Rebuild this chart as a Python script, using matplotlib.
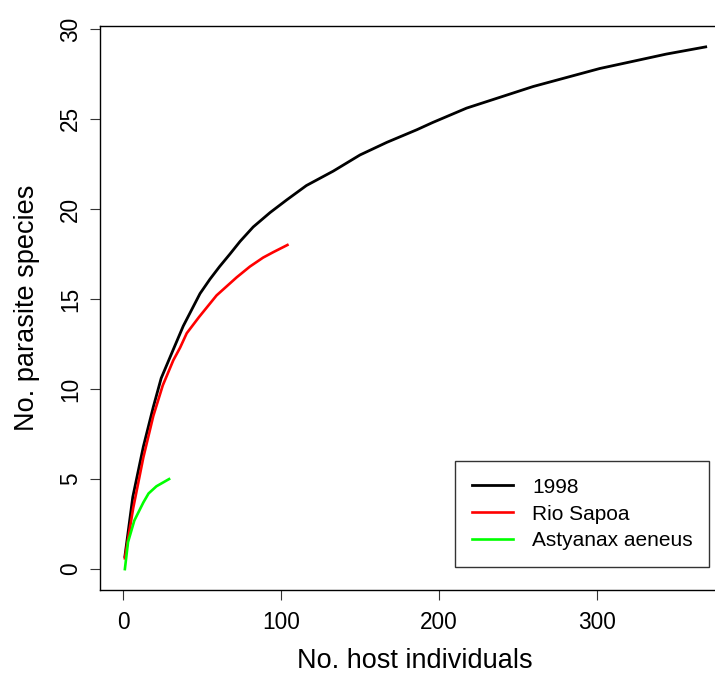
import matplotlib
matplotlib.use("Agg")
import matplotlib.pyplot as plt

# %% Data

hosts_1998 = [1, 6, 12.7, 19, 24, 31.7, 38, 43.3, 48.6, 54.9, 61, 67.6, 74, 82.3,
              93, 103.5, 116, 133, 150, 167, 186, 196, 217.5, 238.6, 259.7,
              280.8, 301.9, 323, 344, 369]
species_1998 = [0.7, 4.0, 6.8, 9.0, 10.6, 12.2, 13.5, 14.4, 15.3, 16.1, 16.8, 17.5,
                18.2, 19.0, 19.8, 20.5, 21.3, 22.1, 23.0, 23.7, 24.4, 24.8, 25.6,
                26.2, 26.8, 27.3, 27.8, 28.2, 28.6, 29.0]

hosts_sapoa = [1, 6.3, 12.7, 19, 25, 31.7, 36, 40.2, 48, 59.1, 71.8, 80.2, 88.6, 95, 104]
species_sapoa = [0.6, 3.4, 6.2, 8.5, 10.2, 11.6, 12.3, 13.1, 14.0, 15.2, 16.2,
                 16.8, 17.3, 17.6, 18.0]

hosts_astyanax = [1, 3, 7, 12.7, 16, 21, 25, 29]
species_astyanax = [0.0, 1.5, 2.7, 3.7, 4.2, 4.6, 4.8, 5.0]

x_ticks = [0, 100, 200, 300]
y_ticks = [0, 5, 10, 15, 20, 25, 30]

# %% Plot

plt.rcParams["font.family"] = ["Liberation Sans", "DejaVu Sans"]

fig = plt.figure(figsize=(7.15, 6.75), dpi=100)
# right edge of the plot box runs past the image edge, as in the original
ax = fig.add_axes([100 / 715, 85 / 675, 629 / 715, 564 / 675])

ax.plot(hosts_1998, species_1998, color="black", lw=2.0, label="1998")
ax.plot(hosts_sapoa, species_sapoa, color="#ff0000", lw=1.9, label="Rio Sapoa")
ax.plot(hosts_astyanax, species_astyanax, color="#00ff00", lw=1.9,
        label="Astyanax aeneus")

ax.set_xlim(-14.76, 383.76)
ax.set_ylim(-1.16, 30.16)
ax.set_xticks(x_ticks)
ax.set_yticks(y_ticks)
ax.set_yticklabels([str(v) for v in y_ticks], rotation=90, va="center")

ax.tick_params(axis="both", direction="out", length=7.5, width=0.8,
               labelsize=16.3, color="#333333")
ax.tick_params(axis="x", pad=7.5)
ax.tick_params(axis="y", pad=5.5)
for side in ["left", "bottom", "top", "right"]:
    ax.spines[side].set_linewidth(1.0)

ax.set_xlabel("No. host individuals", fontsize=19.5, va="center")
ax.set_ylabel("No. parasite species", fontsize=19.5, va="center")
ax.xaxis.set_label_coords(0.5, (590 - 661) / 564)
ax.yaxis.set_label_coords((27 - 100) / 629, 0.5)

leg = ax.legend(loc="upper left", bbox_to_anchor=(455 / 715, 1 - 461 / 675),
                bbox_transform=fig.transFigure, fontsize=15, frameon=True,
                fancybox=False, borderaxespad=0, borderpad=0.8,
                handlelength=2.0, handletextpad=0.9, labelspacing=0.38)
leg.get_frame().set_edgecolor("black")
leg.get_frame().set_linewidth(1.0)

fig.savefig("out.png", dpi=100)
